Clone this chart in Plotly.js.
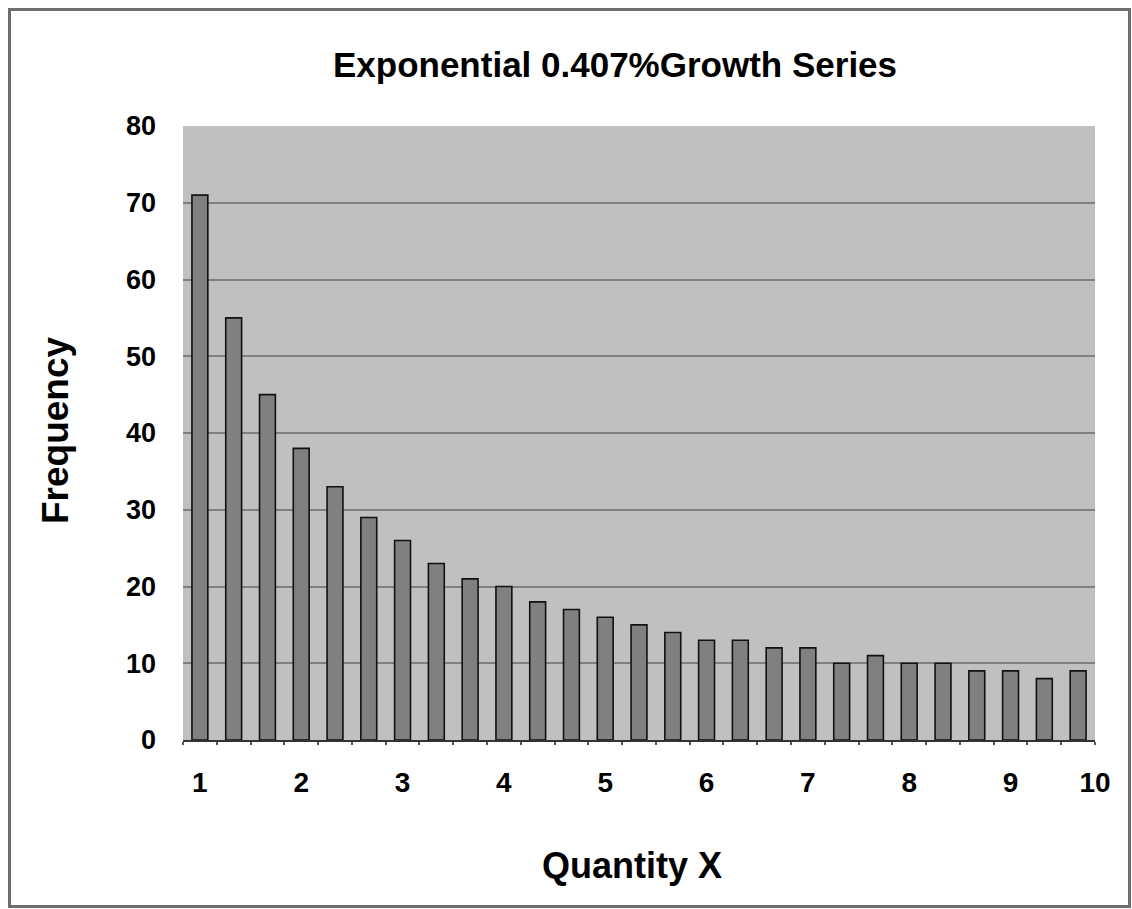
<!DOCTYPE html>
<html>
<head>
<meta charset="utf-8">
<script src="https://cdn.plot.ly/plotly-3.0.1.min.js"></script>
<style>
  html, body { margin: 0; padding: 0; background: #ffffff; }
  #chart { width: 1132px; height: 909px; }
</style>
</head>
<body>
<div id="chart"></div>
<script>
// Data
const barIndex = [0,1,2,3,4,5,6,7,8,9,10,11,12,13,14,15,16,17,18,19,20,21,22,23,24,25,26];
const frequency = [71,55,45,38,33,29,26,23,21,20,18,17,16,15,14,13,13,12,12,10,11,10,10,9,9,8,9];
const xTickPositions = [0,3,6,9,12,15,18,21,24,26.5];
const xTickLabels = ['1','2','3','4','5','6','7','8','9','10'];
const yTickValues = [0,10,20,30,40,50,60,70,80];

const FONT = 'Liberation Sans, Arial, sans-serif';
const nCat = barIndex.length;
const boundaries = [];
for (let i = 0; i <= nCat; i++) boundaries.push(i - 0.5);

const trace = {
  type: 'bar',
  x: barIndex,
  y: frequency,
  width: 0.47,
  marker: { color: '#808080', line: { color: '#111111', width: 1.6 } },
  hoverinfo: 'x+y'
};

const layout = {
  width: 1132,
  height: 909,
  paper_bgcolor: '#ffffff',
  plot_bgcolor: '#c0c0c0',
  margin: { l: 183, r: 37, t: 126, b: 169 },
  showlegend: false,
  font: { family: FONT, color: '#000000' },
  title: {
    text: '<b>Exponential 0.407%Growth Series</b>',
    font: { family: FONT, size: 35, color: '#000000' },
    xref: 'container', x: 615 / 1132, xanchor: 'center',
    yref: 'container', y: 1 - 65 / 909, yanchor: 'middle'
  },
  xaxis: {
    range: [-0.5, nCat - 0.5],
    tickmode: 'array',
    tickvals: xTickPositions,
    ticktext: xTickLabels.map(t => '<b>' + t + '</b>'),
    ticks: '',
    ticklabelstandoff: 16,
    tickfont: { family: FONT, size: 28, color: '#000000' },
    showgrid: false,
    zeroline: false,
    showline: true,
    linecolor: '#333333',
    linewidth: 2,
    minor: { tickmode: 'array', tickvals: boundaries, ticks: 'outside', ticklen: 3, tickcolor: '#555555', tickwidth: 1.5, showgrid: false },
    fixedrange: true
  },
  yaxis: {
    range: [0, 80],
    tickmode: 'array',
    tickvals: yTickValues,
    ticktext: yTickValues.map(v => '<b>' + v + '</b>'),
    ticks: '',
    ticklabelstandoff: 26,
    tickfont: { family: FONT, size: 27, color: '#000000' },
    showgrid: true,
    gridcolor: '#808080',
    gridwidth: 2,
    zeroline: false,
    showline: false,
    fixedrange: true
  },
  annotations: [
    {
      text: '<b>Frequency</b>',
      xref: 'paper', yref: 'paper',
      x: (55 - 183) / (1132 - 183 - 37), y: (740 - 430) / (740 - 126),
      xanchor: 'center', yanchor: 'middle',
      textangle: -90, showarrow: false,
      font: { family: FONT, size: 37, color: '#000000' }
    },
    {
      text: '<b>Quantity X</b>',
      xref: 'paper', yref: 'paper',
      x: (632 - 183) / (1132 - 183 - 37), y: (740 - 865) / (740 - 126),
      xanchor: 'center', yanchor: 'middle',
      showarrow: false,
      font: { family: FONT, size: 36, color: '#000000' }
    }
  ],
  shapes: [
    {
      type: 'rect', xref: 'paper', yref: 'paper',
      x0: (9.5 - 183) / (1132 - 183 - 37), x1: (1129.5 - 183) / (1132 - 183 - 37),
      y0: (740 - 906.5) / (740 - 126), y1: (740 - 9.5) / (740 - 126),
      line: { color: '#6e6e6e', width: 3 }, fillcolor: 'rgba(0,0,0,0)', layer: 'above'
    }
  ]
};

Plotly.newPlot('chart', [trace], layout, { displayModeBar: false, staticPlot: false });
</script>
</body>
</html>
